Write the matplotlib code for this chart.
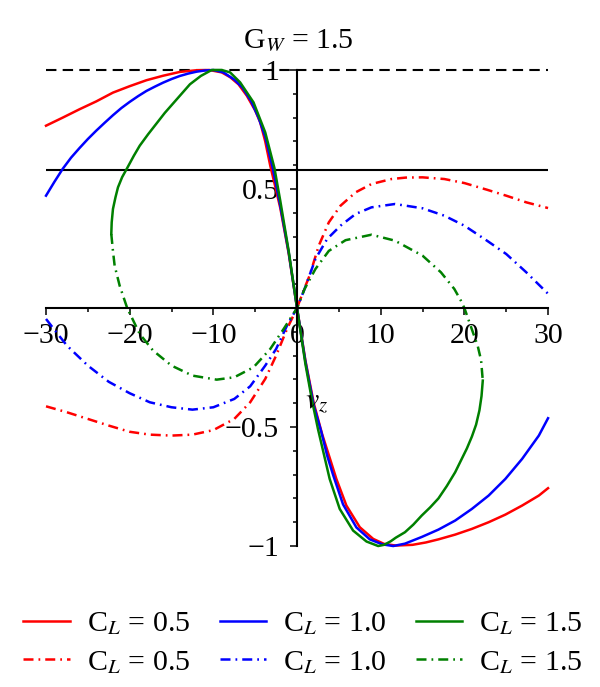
import matplotlib
matplotlib.use("Agg")
import matplotlib.pyplot as plt

plt.rcParams['font.family'] = ['Liberation Serif', 'DejaVu Serif']
plt.rcParams['mathtext.fontset'] = 'stix'

# values
red_solid_x = [-30, -28, -26, -24, -22, -20, -18, -16, -14, -12, -10.5, -9.0, -8.0, -7.0, -6.0,
               -5.0, -4.4, -3.8, -3.2, -2.6, -2.0, -1.0, 0, 1.0, 2.0, 3.0, 4.0, 4.7, 5.9, 7.5, 9.1,
               10.4, 11.8, 13.8, 15.4, 16.9, 18.9, 20.9, 22.9, 24.9, 26.9, 28.9, 30]
red_solid_y = [0.766, 0.80, 0.835, 0.868, 0.905, 0.932, 0.957, 0.976, 0.992, 0.999, 1.0, 0.99,
               0.97, 0.94, 0.892, 0.83, 0.78, 0.70, 0.598, 0.51, 0.42, 0.23, 0, -0.22, -0.40,
               -0.53, -0.64, -0.718, -0.83, -0.921, -0.97, -0.991, -0.998, -0.995, -0.985, -0.972,
               -0.952, -0.928, -0.90, -0.868, -0.83, -0.788, -0.757]

blue_solid_x = [-30, -29, -28, -27, -26, -25, -24, -23, -22, -21, -20, -19, -18, -17, -16, -15,
                -14, -13, -12, -11, -10, -8.8, -7.5, -6.5, -5.5, -4.6, -3.8, -2.9, -2.0, -1.0, 0,
                1.0, 2.0, 2.9, 3.6, 4.3, 5.5, 7.1, 8.7, 10.2, 11.5, 12.9, 14.9, 16.9, 18.9, 20.9,
                22.9, 24.9, 26.9, 28.9, 30]
blue_solid_y = [0.472, 0.53, 0.585, 0.632, 0.672, 0.71, 0.745, 0.778, 0.81, 0.84, 0.866, 0.89,
                0.912, 0.93, 0.947, 0.962, 0.975, 0.985, 0.993, 0.998, 1.0, 0.99, 0.96, 0.925, 0.87,
                0.80, 0.72, 0.588, 0.43, 0.235, 0, -0.225, -0.41, -0.52, -0.62, -0.70, -0.825,
                -0.922, -0.972, -0.993, -1.0, -0.99, -0.962, -0.931, -0.893, -0.844, -0.788,
                -0.718, -0.634, -0.536, -0.463]

green_solid_x = [-22.2, -22.15, -22.0, -21.7, -21.4, -20.9, -20.3, -19.5, -18.8, -17.8, -16.8,
                 -15.8, -14.8, -13.8, -12.8, -11.5, -10.2, -9.0, -8.0, -6.8, -5.2, -3.8, -2.7,
                 -2.0, -1.0, 0, 1.0, 1.8, 2.5, 3.9, 5.1, 6.7, 8.3, 9.7, 10.4, 11.2, 11.8, 12.9,
                 13.9, 14.9, 15.9, 16.9, 17.9, 18.9, 19.6, 20.3, 20.9, 21.4, 21.8, 22.05, 22.2]
green_solid_y = [0.311, 0.36, 0.416, 0.465, 0.507, 0.55, 0.588, 0.64, 0.682, 0.73, 0.775, 0.82,
                 0.86, 0.90, 0.94, 0.975, 1.0, 1.0, 0.99, 0.948, 0.864, 0.738, 0.588, 0.45, 0.24,
                 0, -0.235, -0.39, -0.508, -0.718, -0.844, -0.935, -0.981, -1.0, -0.995, -0.98,
                 -0.965, -0.942, -0.91, -0.872, -0.838, -0.80, -0.748, -0.69, -0.64, -0.59, -0.54,
                 -0.49, -0.43, -0.37, -0.305]

red_dash_x = [-30, -27.5, -25, -22.5, -20, -17.6, -15, -12.5, -10, -7.5, -5.6, -3.8, -2.5, -1.2, 0,
              0.8, 1.5, 2.6, 3.8, 5.2, 7, 8.9, 11.3, 13, 15, 17.6, 20, 22.7, 25, 27.4, 30]
red_dash_y = [-0.413, -0.438, -0.466, -0.494, -0.52, -0.532, -0.536, -0.532, -0.513, -0.466, -0.396,
              -0.298, -0.2, -0.088, 0, 0.075, 0.136, 0.262, 0.36, 0.43, 0.486, 0.521, 0.542, 0.548,
              0.549, 0.542, 0.525, 0.497, 0.472, 0.444, 0.42]

blue_dash_x = [-30, -28.6, -27.5, -25, -22.5, -20, -17.6, -15, -12.5, -10, -7.5, -5.6, -3.8, -2.5,
               -1.2, 0, 0.9, 2.2, 3.6, 5.2, 7, 8.9, 11.7, 15, 17.6, 20, 22.7, 25, 27.4, 30]
blue_dash_y = [-0.046, -0.109, -0.158, -0.242, -0.31, -0.358, -0.396, -0.417, -0.427, -0.417,
               -0.382, -0.329, -0.242, -0.172, -0.074, 0, 0.08, 0.206, 0.29, 0.346, 0.395, 0.423,
               0.437, 0.419, 0.388, 0.346, 0.283, 0.227, 0.15, 0.06]

green_dash_x = [-22.2, -22.0, -21.8, -21.2, -20.3, -18.8, -17.2, -15, -12.5, -9.6, -7.5, -5.2, -3.2,
                -1.6, 0, 0.9, 2.2, 3.8, 5.8, 8.9, 11.7, 15, 17.2, 18.8, 19.6, 20.0, 21.0, 21.6,
                22.0, 22.2]
green_dash_y = [0.311, 0.24, 0.178, 0.094, 0, -0.109, -0.179, -0.242, -0.284, -0.301, -0.291, -0.249,
                -0.172, -0.088, 0, 0.08, 0.164, 0.24, 0.285, 0.308, 0.283, 0.22, 0.15, 0.08, 0.03, 0,
                -0.1, -0.16, -0.22, -0.305]

upper_bound = 1.0
threshold = 0.58
series_labels = ['C$_L$ = 0.5', 'C$_L$ = 1.0', 'C$_L$ = 1.5']
red, blue, green = '#ff0000', '#0000ff', '#008000'
dashdot = (0, (4, 2, 0.7, 2))
fs = 21.5

fig = plt.figure(figsize=(6, 6.87), dpi=100)
ax = fig.add_axes([0.0767, 0.2052, 0.8367, 0.6929])
ax.set_xlim(-30, 30)
ax.set_ylim(-1, 1)

ax.axhline(upper_bound, color='k', lw=1.5, ls=(0, (5, 3)), clip_on=False)
ax.axhline(threshold, color='k', lw=1.5)

lines = []
for xs, ys, c, lab, ls in [
        (red_solid_x, red_solid_y, red, series_labels[0], '-'),
        (red_dash_x, red_dash_y, red, series_labels[0], dashdot),
        (blue_solid_x, blue_solid_y, blue, series_labels[1], '-'),
        (blue_dash_x, blue_dash_y, blue, series_labels[1], dashdot),
        (green_solid_x, green_solid_y, green, series_labels[2], '-'),
        (green_dash_x, green_dash_y, green, series_labels[2], dashdot)]:
    ln, = ax.plot(xs, ys, color=c, lw=1.8, ls=ls, label=lab, clip_on=False)
    lines.append(ln)

for s in ['top', 'right']:
    ax.spines[s].set_visible(False)
ax.spines['left'].set_position(('data', 0))
ax.spines['bottom'].set_position(('data', 0))
ax.spines['left'].set_linewidth(1.5)
ax.spines['bottom'].set_linewidth(1.5)

ax.set_xticks([-30, -20, -10, 0, 10, 20, 30])
ax.set_xticks(range(-25, 30, 10), minor=True)
ax.set_yticks([-1, -0.5, 0.5, 1])
ax.set_yticklabels(['\u22121', '\u22120.5', '0.5', '1'])
ax.set_yticks([i / 10 for i in range(-9, 10) if i not in (-5, 0, 5)], minor=True)
ax.tick_params(which='major', length=5, width=1.1, labelsize=fs)
ax.tick_params(which='minor', length=3, width=1.1)
ax.tick_params(axis='x', pad=6)
ax.tick_params(axis='y', pad=8)

ax.text(1.0, -0.42, '$v_z$', fontsize=fs)
fig.text(0.497, 1 - 40 / 687, 'G$_W$ = 1.5', fontsize=fs, ha='center', va='center')

fig.legend(handles=lines, ncol=3, loc='center', bbox_to_anchor=(0.505, 1 - 643 / 687),
           frameon=False, fontsize=fs, handlelength=1.55, handletextpad=0.57,
           columnspacing=1.0, labelspacing=0.4)

fig.savefig('out.png', dpi=100)
